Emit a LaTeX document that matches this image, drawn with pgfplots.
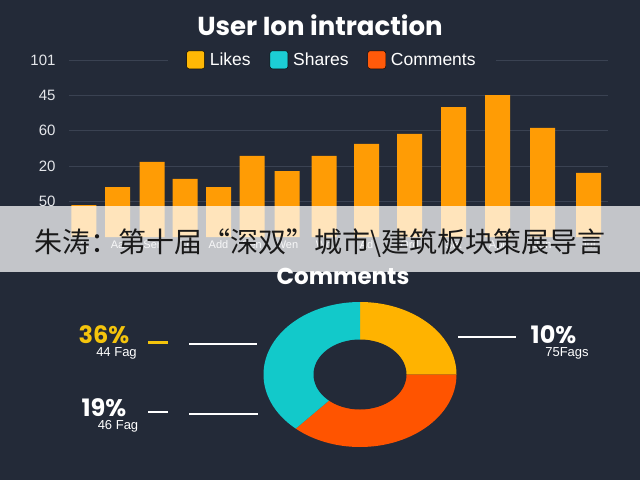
\documentclass[border=0pt]{standalone}
\usepackage{pgfplots}
\pgfplotsset{compat=1.18}
\usepackage{pgfplotstable}
\usepackage{fontspec}
\setmainfont{Liberation Sans}
\newfontfamily\poppins{Poppins}
\newfontfamily\cjk{Noto Sans CJK SC}
\definecolor{bg}{HTML}{232A38}
\definecolor{barC}{HTML}{FF9C05}
\definecolor{gridC}{HTML}{3A4252}
\definecolor{likesC}{HTML}{FFB805}
\definecolor{sharesC}{HTML}{1CCDD4}
\definecolor{commC}{HTML}{FF5A0A}
\definecolor{dY}{HTML}{FFB300}
\definecolor{dR}{HTML}{FF5400}
\definecolor{dC}{HTML}{12C9CA}
\definecolor{pctY}{HTML}{F4C40C}
\definecolor{tickC}{HTML}{E4E6EA}

\pgfplotstableread{
x y
84 0.90
117.5 1.41
152 2.12
185 1.64
218.5 1.41
252 2.29
287 1.86
324 2.29
366.5 2.63
409.5 2.91
453.5 3.67
497.5 4.01
542.5 3.08
588.5 1.81
}\likestable

% donut shares (percent): Likes, Comments, Shares
\def\vY{25}
\def\vR{36.6}
\def\vC{38.4}

\begin{document}
\begin{tikzpicture}[x=1pt,y=1pt]
\useasboundingbox (0,0) rectangle (640,480);
\fill[bg] (0,0) rectangle (640,480);
\node[font=\poppins\bfseries\fontsize{26}{26}\selectfont, text=white] at (320,455) {User Ion intraction};

\begin{axis}[
  at={(69pt,243pt)}, anchor=south west,
  scale only axis, width=539pt, height=177pt,
  xmin=69, xmax=608, ymin=0, ymax=5,
  axis line style={draw=none}, major tick style={draw=none},
  ytick={1,2,3,4,5}, yticklabels={50,20,60,45,101},
  ymajorgrids, grid style={gridC, line width=0.9pt},
  xtick=data,
  xticklabels={A.,Aa,Ser,Tr,Add,Sen,Wen,Wd,Ad,Ord,Set,Apr,Jun,Jul},
  yticklabel style={font=\fontsize{15}{15}\selectfont, text=tickC, xshift=-10pt},
  xticklabel style={font=\fontsize{11}{11}\selectfont, text=tickC},
  legend style={at={(0.488,1)}, anchor=center, fill=bg, draw=none,
    legend columns=3, font=\fontsize{17.5}{17.5}\selectfont, text=white,
    /tikz/every even column/.append style={column sep=17pt}, inner xsep=18pt},
  legend image code/.code={\fill[#1, rounded corners=2.5pt] (0pt,-8.5pt) rectangle (18pt,9.5pt); \path (21pt,0pt);},
]
\addplot[ybar, bar width=25pt, fill=barC, draw=none, forget plot] table[x=x,y=y]{\likestable};
\addlegendimage{fill=likesC}\addlegendentry{Likes}
\addlegendimage{fill=sharesC}\addlegendentry{Shares}
\addlegendimage{fill=commC}\addlegendentry{Comments}
\end{axis}

\node[font=\poppins\bfseries\fontsize{23}{23}\selectfont, text=white] at (343,204) {Comments};

\pgfmathsetmacro\aA{90}
\pgfmathsetmacro\aB{90-3.6*\vY}
\pgfmathsetmacro\aC{\aB-3.6*\vR}
\pgfmathsetmacro\aD{\aC-3.6*\vC}

\begin{axis}[at={(263.5pt,33pt)}, anchor=south west, scale only axis,
  width=193pt, height=145pt, xmin=-1, xmax=1, ymin=-1, ymax=1,
  hide axis, clip=false]
\fill[dY] (axis cs:0,0) -- (axis cs:{cos(\aA)},{sin(\aA)}) arc[start angle=\aA, end angle=\aB, x radius=96.5pt, y radius=72.5pt] -- cycle;
\fill[dR] (axis cs:0,0) -- (axis cs:{cos(\aB)},{sin(\aB)}) arc[start angle=\aB, end angle=\aC, x radius=96.5pt, y radius=72.5pt] -- cycle;
\fill[dC] (axis cs:0,0) -- (axis cs:{cos(\aC)},{sin(\aC)}) arc[start angle=\aC, end angle=\aD, x radius=96.5pt, y radius=72.5pt] -- cycle;
\fill[bg] (axis cs:0,0) ellipse[x radius=46.5pt, y radius=35pt];
\end{axis}

% labels around donut
\draw[pctY, line width=3pt] (148,138) -- (168,138);
\draw[white, line width=2.2pt] (189,136) -- (257,136);
\draw[white, line width=2.2pt] (148,68) -- (168,68);
\draw[white, line width=2.2pt] (189,66) -- (258,66);
\draw[white, line width=2.2pt] (458,143) -- (516,143);
\node[font=\poppins\bfseries\fontsize{24}{24}\selectfont, text=pctY] at (104,145) {36\%};
\node[font=\fontsize{13}{13}\selectfont, text=white] at (116.5,127) {44 Fag};
\node[font=\poppins\bfseries\fontsize{24}{24}\selectfont, text=white] at (104,72) {19\%};
\node[font=\fontsize{13}{13}\selectfont, text=white] at (118,54) {46 Fag};
\node[font=\poppins\bfseries\fontsize{24}{24}\selectfont, text=white] at (553.5,145) {10\%};
\node[font=\fontsize{13}{13}\selectfont, text=white] at (567,127) {75Fags};

% banner
\fill[white, opacity=0.73] (0,208) rectangle (640,274);
\node[font=\cjk\fontsize{28}{28}\selectfont, text=black!90] at (320,237) {朱涛：第十届“深双”城市\textbackslash 建筑板块策展导言};
\end{tikzpicture}
\end{document}
